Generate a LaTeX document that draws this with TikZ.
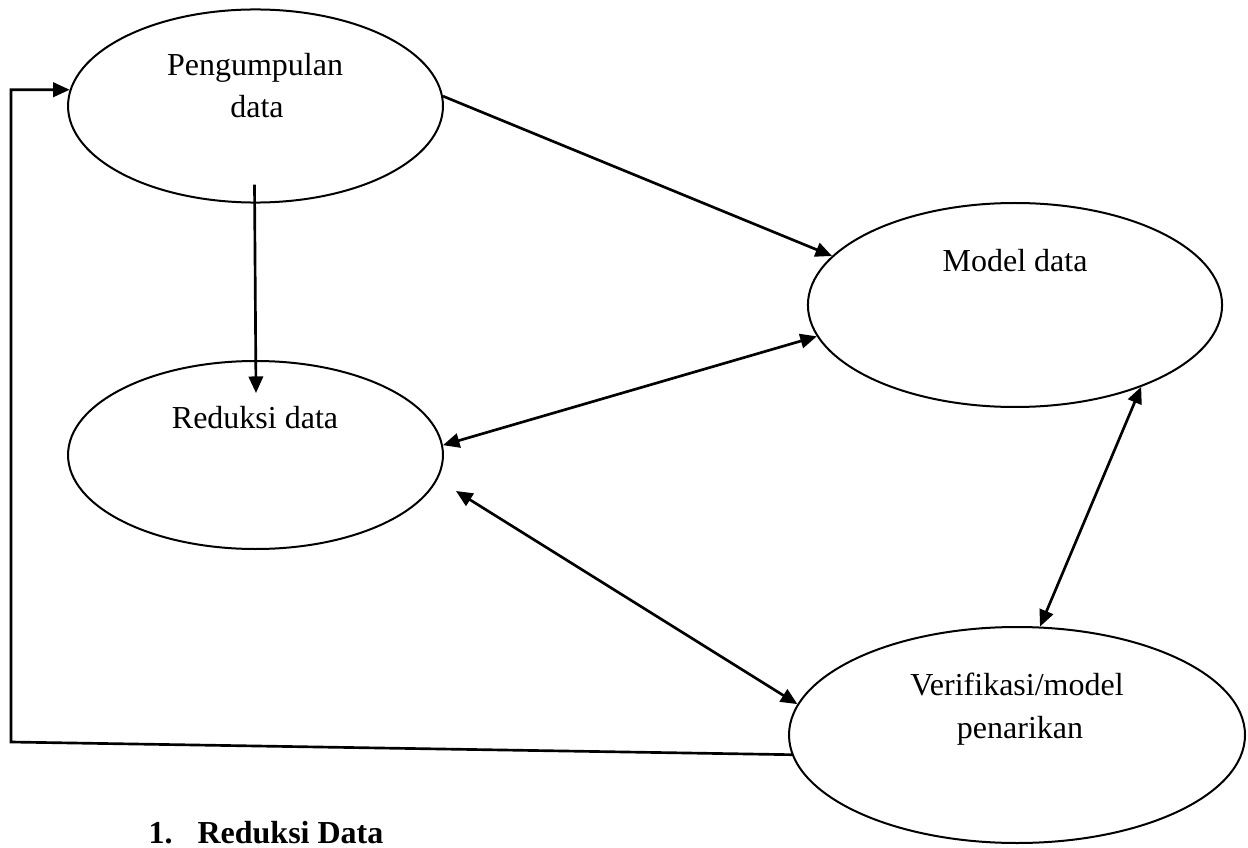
\documentclass[tikz,border=0pt]{standalone}
\usepackage{fontspec}
\setmainfont{Liberation Serif}
\usetikzlibrary{shapes.geometric,arrows.meta,calc}

\begin{document}
\begin{tikzpicture}[x=0.375pt,y=0.375pt,yscale=-1,xscale=1,
  bubble/.style={draw, ellipse, line width=0.75pt, inner sep=0pt},
  txt/.style={anchor=base, inner sep=0pt, font=\fontsize{12}{14}\selectfont},
  flow/.style={line width=1pt, -{Triangle[length=6.2pt,width=5.4pt]}},
  bothflow/.style={line width=1pt, {Triangle[length=6.2pt,width=5.4pt]}-{Triangle[length=6.2pt,width=5.4pt]}}]
\useasboundingbox (0,0) rectangle (1248,848);
%Shape: Ellipse
\node [bubble, minimum width=140.6pt, minimum height=72.4pt] (pengumpulan) at (255.5,106) {};
%Shape: Ellipse
\node [bubble, minimum width=155.3pt, minimum height=76.5pt] (model) at (1015,305) {};
%Shape: Ellipse
\node [bubble, minimum width=140.6pt, minimum height=70.5pt] (reduksi) at (255.5,455) {};
%Shape: Ellipse
\node [bubble, minimum width=171pt, minimum height=81pt] (verifikasi) at (1017,735) {};
% Text Node
\node [txt] (pengumpulan-l1) at (255,76) {Pengumpulan};
% Text Node
\node [txt] (pengumpulan-l2) at (257,118) {data};
% Text Node
\node [txt] (model-l1) at (1015,271) {Model data};
% Text Node
\node [txt] (reduksi-l1) at (255,428) {Reduksi data};
% Text Node
\node [txt] (verifikasi-l1) at (1017,695) {Verifikasi/model};
% Text Node
\node [txt] (verifikasi-l2) at (1020,738) {penarikan};
% Text Node
\node [txt, anchor=base west, font=\fontsize{12}{14}\selectfont\bfseries] (judul) at (148,843) {1.\hspace{9.4pt}Reduksi Data};
%Straight Lines
\draw [flow] (pengumpulan.3) -- (model.165);
%Straight Lines
\draw [flow] ($(pengumpulan.south)+(-1,-19)$) -- ($(reduksi.north)+(0.5,33)$);
%Straight Lines
\draw [bothflow] (reduksi.3) -- (model.189);
%Straight Lines
\draw [bothflow] ($(reduksi.east)+(12,36)$) -- (verifikasi.172);
%Straight Lines
\draw [bothflow] (model.327) -- (verifikasi.78);
%Straight Lines
\coordinate (pojok) at (11,742);
\draw [flow] (verifikasi.185) -- (pojok) |- (pengumpulan.175);
\end{tikzpicture}
\end{document}
